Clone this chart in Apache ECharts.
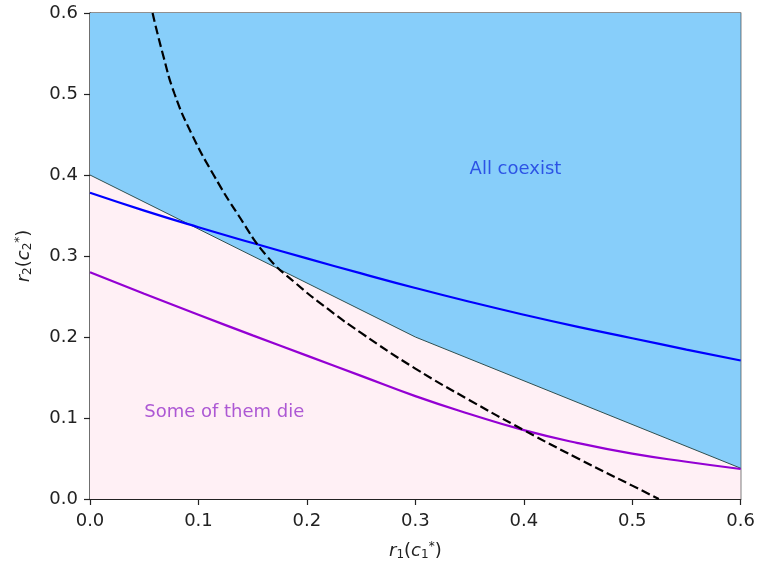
<!DOCTYPE html>
<html>
<head>
<meta charset="utf-8">
<script src="https://cdn.jsdelivr.net/npm/echarts@6/dist/echarts.min.js"></script>
<style>
  html, body { margin: 0; padding: 0; background: #fff; }
  #chart { width: 758px; height: 567px; }
</style>
</head>
<body>
<div id="chart"></div>
<script>
// Sample positions along r1(c1*)
const r1 = [0, 0.05, 0.1, 0.15, 0.2, 0.25, 0.3, 0.35, 0.4, 0.45, 0.5, 0.55, 0.6];
// Upper threshold curve (blue)
const upperCurve = [0.378, 0.356, 0.3355, 0.316, 0.297, 0.2785, 0.2605, 0.2435, 0.2275, 0.2125, 0.1985, 0.1845, 0.171];
// Lower threshold curve (purple)
const lowerCurve = [0.280, 0.2535, 0.2275, 0.202, 0.177, 0.152, 0.127, 0.105, 0.085, 0.069, 0.056, 0.046, 0.037];
// Coexistence boundary (piecewise linear)
const boundaryX = [0, 0.3, 0.6];
const boundaryY = [0.4, 0.2, 0.038];
// Dashed reference curve
const dashedX = [0.0577, 0.067, 0.078, 0.094, 0.114, 0.137, 0.163, 0.19, 0.22, 0.25, 0.3, 0.35, 0.4, 0.45, 0.5, 0.5245];
const dashedY = [0.6, 0.55, 0.5, 0.45, 0.4, 0.35, 0.3, 0.266, 0.234, 0.205, 0.161, 0.122, 0.085, 0.05, 0.0165, 0];
// Axis ticks
const ticks = [0.0, 0.1, 0.2, 0.3, 0.4, 0.5, 0.6];

const zip = (xs, ys) => xs.map((x, i) => [x, ys[i]]);
const FONT = 'DejaVu Sans';
const axisColor = '#222';

const mathRich = {
  i: { fontFamily: FONT, fontStyle: 'italic', fontSize: 18, color: '#222', verticalAlign: 'middle' },
  n: { fontFamily: FONT, fontSize: 18, color: '#222', verticalAlign: 'middle' },
  sub: { fontFamily: FONT, fontSize: 12, color: '#222', verticalAlign: 'bottom', padding: [8, 0, 0, 0] },
  sup: { fontFamily: FONT, fontSize: 12, color: '#222', verticalAlign: 'top', padding: [0, 0, 6, 0] }
};

function axisCommon(nameText) {
  return {
    type: 'value',
    min: ticks[0],
    max: ticks[ticks.length - 1],
    interval: 0.1,
    name: nameText,
    nameLocation: 'middle',
    nameTextStyle: { rich: mathRich },
    axisLine: { show: true, onZero: false, lineStyle: { color: axisColor, width: 1.2 } },
    axisTick: { show: true, inside: false, length: 6, lineStyle: { color: axisColor, width: 1.2 } },
    axisLabel: {
      fontFamily: FONT, fontSize: 18, color: '#222',
      formatter: v => v.toFixed(1)
    },
    splitLine: { show: false }
  };
}

const xAxis = axisCommon('{i|r}{sub|1}{n|(}{i|c}{sub|1}{sup|*}{n|)}');
xAxis.nameGap = 42;
xAxis.axisLabel.margin = 13;

const yAxis = axisCommon('{i|r}{sub|2}{n|(}{i|c}{sub|2}{sup|*}{n|)}');
yAxis.nameGap = 56;
yAxis.nameRotate = 90;
yAxis.axisLabel.margin = 12;

const chart = echarts.init(document.getElementById('chart'), null, { renderer: 'canvas' });
chart.setOption({
  animation: false,
  backgroundColor: '#ffffff',
  grid: {
    left: 90, right: 17, top: 13, bottom: 68,
    show: true, borderColor: axisColor, borderWidth: 1.2, backgroundColor: 'transparent'
  },
  xAxis: xAxis,
  yAxis: yAxis,
  series: [
    {
      // region below boundary
      type: 'line', data: zip(boundaryX, boundaryY), symbol: 'none', z: 1,
      lineStyle: { width: 0 },
      areaStyle: { color: '#FFF0F5', opacity: 1, origin: 'start' }
    },
    {
      // region above boundary
      type: 'line', data: zip(boundaryX, boundaryY), symbol: 'none', z: 1,
      lineStyle: { color: '#2F4F4F', width: 1 },
      areaStyle: { color: '#87CEFA', opacity: 1, origin: 'end' }
    },
    {
      type: 'line', data: zip(r1, upperCurve), symbol: 'none', z: 3,
      smooth: 0.5,
      lineStyle: { color: '#0000ff', width: 2.2 }
    },
    {
      type: 'line', data: zip(r1, lowerCurve), symbol: 'none', z: 3,
      smooth: 0.5,
      lineStyle: { color: '#9400D3', width: 2.2 }
    },
    {
      type: 'line', data: zip(dashedX, dashedY), symbol: 'none', z: 4,
      smooth: 0.5,
      lineStyle: { color: '#000', width: 2.2, type: [9, 4] }
    },
    {
      type: 'scatter', data: [[0.35, 0.4]], symbolSize: 0, z: 5, silent: true,
      label: {
        show: true, position: 'inside', formatter: 'All coexist',
        fontFamily: FONT, fontSize: 18, color: '#1535e0',
        align: 'left', verticalAlign: 'bottom', offset: [0, 3]
      }
    },
    {
      type: 'scatter', data: [[0.05, 0.1]], symbolSize: 0, z: 5, silent: true,
      label: {
        show: true, position: 'inside', formatter: 'Some of them die',
        fontFamily: FONT, fontSize: 18, color: '#9932CC',
        align: 'left', verticalAlign: 'bottom', offset: [0, 3]
      }
    }
  ]
});
</script>
</body>
</html>
